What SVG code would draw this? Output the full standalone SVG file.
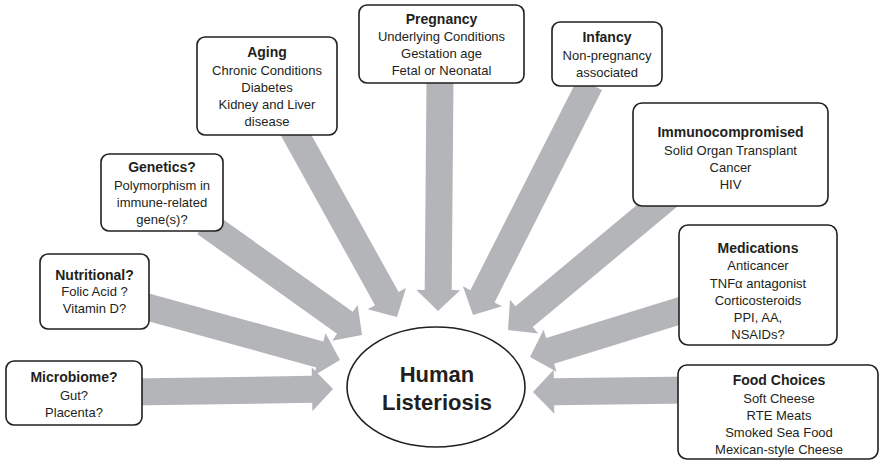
<svg xmlns="http://www.w3.org/2000/svg" width="881" height="461" viewBox="0 0 881 461">
<style>
.box{fill:#fff;stroke:#231f20;stroke-width:1.6}
.arr{fill:#b4b5b9;stroke:none}
text{font-family:"Liberation Sans",Arial,sans-serif;fill:#231f20;text-anchor:middle}
.t{font-weight:bold;font-size:14px}
.b{font-size:13px}
.big{font-weight:bold;font-size:22px}
</style>
<rect width="881" height="461" fill="#fff"/>
<g id="connectors">
<polygon class="arr" points="130.2,405.5 312.2,402.8 312.3,411.3 333,389 311.7,367.3 311.8,375.8 129.8,378.5"/>
<polygon class="arr" points="136.4,318 316.2,367.4 313.9,375.6 340,360 325.6,333.2 323.3,341.4 143.6,292"/>
<polygon class="arr" points="197.2,234 337.1,333.8 332.1,340.7 362,335 357.7,304.9 352.7,311.8 212.8,212"/>
<polygon class="arr" points="279.2,132.6 375,305.2 367.6,309.3 397,317 406,287.9 398.6,292.1 302.8,119.4"/>
<polygon class="arr" points="426.5,79.9 424.7,289.9 416.2,289.8 438,311 460.2,290.2 451.7,290.1 453.5,80.1"/>
<polygon class="arr" points="578,77.9 470.4,290.2 462.9,286.3 473,315 502.1,306.2 494.5,302.4 602,90.1"/>
<polygon class="arr" points="661.4,184.6 515.5,306.2 510,299.7 508,330 538.2,333.5 532.7,327 678.6,205.4"/>
<polygon class="arr" points="686,294.7 546.1,337.9 543.6,329.8 530,357 556.6,371.8 554.1,363.7 694,320.5"/>
<polygon class="arr" points="689.8,376.5 553.8,378.2 553.7,369.7 533,392 554.3,413.7 554.2,405.2 690.2,403.5"/>
</g>
<g id="microbiome">
<rect class="box" x="6" y="361" width="136" height="64" rx="8"/>
<text class="t" x="74" y="382">Microbiome?</text>
<text class="b" x="74" y="399.5">Gut?</text>
<text class="b" x="74" y="417">Placenta?</text>
</g>
<g id="nutritional">
<rect class="box" x="40" y="254" width="109" height="75" rx="8"/>
<text class="t" x="94.5" y="280">Nutritional?</text>
<text class="b" x="94.5" y="296">Folic Acid ?</text>
<text class="b" x="94.5" y="313">Vitamin D?</text>
</g>
<g id="genetics">
<rect class="box" x="101" y="154" width="122" height="77" rx="8"/>
<text class="t" x="162" y="172">Genetics?</text>
<text class="b" x="162" y="190">Polymorphism in</text>
<text class="b" x="162" y="207">immune-related</text>
<text class="b" x="162" y="224">gene(s)?</text>
</g>
<g id="aging">
<rect class="box" x="197" y="37" width="140" height="98" rx="8"/>
<text class="t" x="267" y="57">Aging</text>
<text class="b" x="267" y="75">Chronic Conditions</text>
<text class="b" x="267" y="92">Diabetes</text>
<text class="b" x="267" y="109">Kidney and Liver</text>
<text class="b" x="267" y="126">disease</text>
</g>
<g id="pregnancy">
<rect class="box" x="359" y="5" width="165" height="78" rx="8"/>
<text class="t" x="441.5" y="24">Pregnancy</text>
<text class="b" x="441.5" y="41">Underlying Conditions</text>
<text class="b" x="441.5" y="58">Gestation age</text>
<text class="b" x="441.5" y="75">Fetal or Neonatal</text>
</g>
<g id="infancy">
<rect class="box" x="552" y="22" width="110" height="64" rx="8"/>
<text class="t" x="607" y="42">Infancy</text>
<text class="b" x="607" y="60">Non-pregnancy</text>
<text class="b" x="607" y="77">associated</text>
</g>
<g id="immunocompromised">
<rect class="box" x="633" y="103" width="195" height="103" rx="9"/>
<text class="t" x="730.5" y="137">Immunocompromised</text>
<text class="b" x="730.5" y="154.5">Solid Organ Transplant</text>
<text class="b" x="730.5" y="172">Cancer</text>
<text class="b" x="730.5" y="189">HIV</text>
</g>
<g id="medications">
<rect class="box" x="679" y="225" width="158" height="120" rx="9"/>
<text class="t" x="758" y="253">Medications</text>
<text class="b" x="758" y="270">Anticancer</text>
<text class="b" x="758" y="287.5">TNFα antagonist</text>
<text class="b" x="758" y="305">Corticosteroids</text>
<text class="b" x="758" y="322">PPI, AA,</text>
<text class="b" x="758" y="339">NSAIDs?</text>
</g>
<g id="food">
<rect class="box" x="678" y="365" width="200" height="94" rx="9"/>
<text class="t" x="779" y="385">Food Choices</text>
<text class="b" x="779" y="403">Soft Cheese</text>
<text class="b" x="779" y="420">RTE Meats</text>
<text class="b" x="779" y="437">Smoked Sea Food</text>
<text class="b" x="779" y="454">Mexican-style Cheese</text>
</g>
<g id="listeriosis">
<ellipse cx="436" cy="387" rx="89" ry="60" fill="#fff" stroke="#231f20" stroke-width="1.6"/>
<text class="big" x="437" y="382">Human</text>
<text class="big" x="437" y="410">Listeriosis</text>
</g>
</svg>
